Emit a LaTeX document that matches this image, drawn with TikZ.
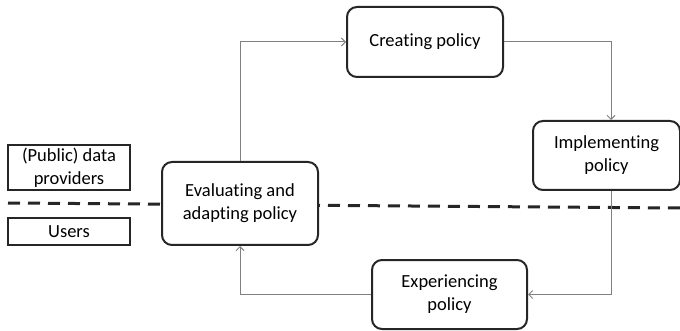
\documentclass[tikz,border=0pt]{standalone}
\usepackage{fontspec}
\setmainfont[Ligatures=NoCommon]{Carlito}
\usetikzlibrary{arrows.meta,positioning}

\begin{document}
\begin{tikzpicture}[x=1pt, y=-1pt, >={Straight Barb[length=4pt,width=8pt]},
    font=\fontsize{18.5}{23}\selectfont,
    phase/.style={draw=black!85, line width=2pt, rounded corners=10pt, fill=white,
      align=center, minimum width=156pt, minimum height=70pt, inner sep=0pt},
    actor/.style={draw=black!85, line width=2pt, fill=white, align=center,
      minimum width=122pt, inner sep=0pt},
    flow/.style={->, draw=black!50, line width=1pt}]
    \useasboundingbox (0,0) rectangle (680,331);
    % split between the two groups
    \draw[line width=3pt, dash pattern=on 12pt off 8pt, black!85] (8,203) -- (680,208);
    \node[actor, minimum height=45pt] (prov) at (69,167.5) {(Public) data\\providers};
    \node[actor, minimum height=27pt] (users) at (69,231.5) {Users};
    \node[phase, minimum height=83pt] (eval) at (240,203.5) {Evaluating and\\adapting policy};
    \node[phase] (create) at (425,42) {Creating policy};
    \node[phase, minimum width=147pt, minimum height=69pt] (impl) at (606.5,155.5) {Implementing\\policy};
    \node[phase, minimum width=155pt, minimum height=69pt] (exper) at (449.5,294.5) {Experiencing\\policy};
    \draw[flow] (eval.north) |- (create.west);
    \draw[flow] (create.east) -| ([xshift=4.5pt]impl.north);
    \draw[flow] ([xshift=4.5pt]impl.south) |- (exper.east);
    \draw[flow] (exper.west) -| (eval.south);
\end{tikzpicture}
\end{document}
